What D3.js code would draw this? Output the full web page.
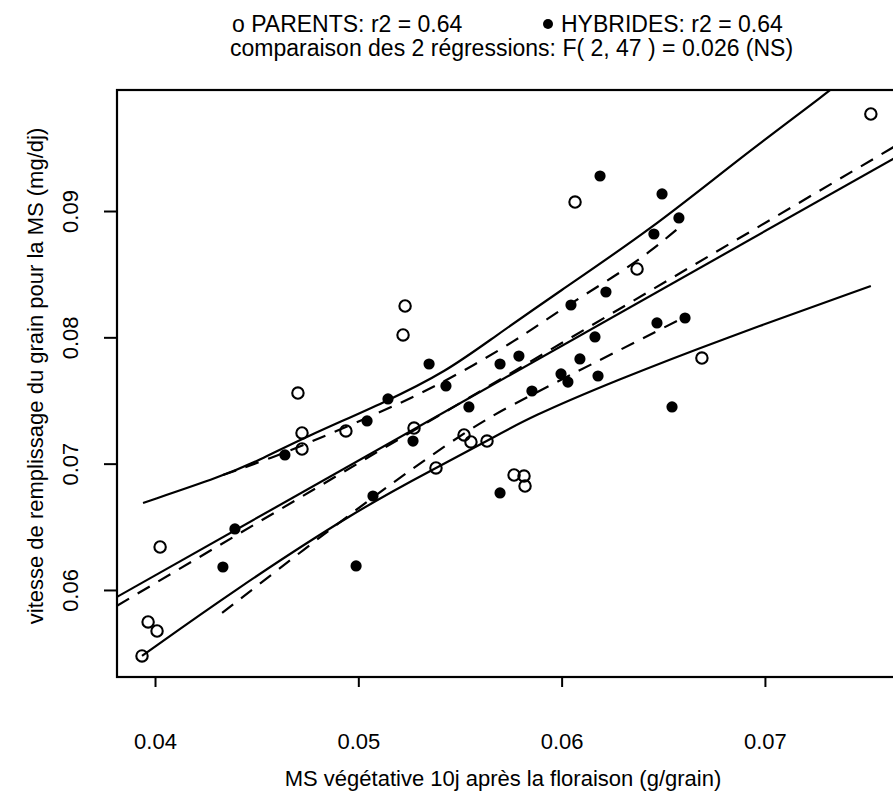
<!DOCTYPE html>
<html><head><meta charset="utf-8">
<script src="https://cdn.jsdelivr.net/npm/d3@7"></script>
<style>
html,body{margin:0;padding:0;background:#fff;}
svg{display:block;font-family:"Liberation Sans",Arial,Helvetica,sans-serif;}
</style></head><body>
<svg id="chart" width="893" height="791"></svg>
<script>
// ---------- data ----------
const titleParents = "o PARENTS: r2 = 0.64";
const titleHybrides = "HYBRIDES: r2 = 0.64";
const titleLine2 = "comparaison des 2 régressions: F( 2, 47 ) = 0.026 (NS)";
const xLabel = "MS végétative 10j après la floraison (g/grain)";
const yLabel = "vitesse de remplissage du grain pour la MS (mg/dj)";

const xTicks = [0.04, 0.05, 0.06, 0.07];
const yTicks = [0.06, 0.07, 0.08, 0.09];
const xTickLabels = ["0.04", "0.05", "0.06", "0.07"];
const yTickLabels = ["0.06", "0.07", "0.08", "0.09"];

const parentsX = [0.07521,0.06066,0.06371,0.05230,0.05220,0.04703,0.04939,0.04723,0.04723,0.05274,0.05520,0.05554,0.05633,0.05382,0.05766,0.05815,0.05820,0.06690,0.04025,0.03966,0.04010,0.03936];
const parentsY = [0.09768,0.09071,0.08541,0.08248,0.08019,0.07559,0.07259,0.07243,0.07116,0.07282,0.07227,0.07172,0.07179,0.06966,0.06910,0.06902,0.06823,0.07836,0.06340,0.05747,0.05675,0.05478];

const hybridsX = [0.06189,0.06494,0.06577,0.06454,0.06218,0.06046,0.06164,0.05790,0.05697,0.06090,0.05997,0.06031,0.06179,0.05854,0.06543,0.06607,0.06469,0.05431,0.05146,0.05043,0.04639,0.05544,0.05269,0.05697,0.05072,0.04393,0.04334,0.04989,0.05348];
const hybridsY = [0.09277,0.09135,0.08945,0.08818,0.08359,0.08256,0.08003,0.07852,0.07789,0.07829,0.07710,0.07646,0.07694,0.07575,0.07449,0.08153,0.08114,0.07615,0.07512,0.07338,0.07069,0.07449,0.07179,0.06768,0.06744,0.06483,0.06182,0.06190,0.07789];

// regression lines (solid = parents, dashed = hybrides)
const parentLineX = [0.03813, 0.07689];
const parentLineY = [0.05945, 0.09466];
const hybridLineX = [0.03813, 0.07689];
const hybridLineY = [0.05875, 0.09560];

// confidence bands
const parentUpperX = [0.03941,0.04334,0.04516,0.04728,0.05146,0.05436,0.05648,0.05977,0.06449,0.06877,0.07305,0.07521];
const parentUpperY = [0.06689,0.06902,0.07029,0.07203,0.07496,0.07734,0.07979,0.08351,0.08866,0.09420,0.09934,0.10211];
const parentLowerX = [0.03936,0.04384,0.04993,0.05382,0.05633,0.05844,0.06272,0.06779,0.07521];
const parentLowerY = [0.05478,0.05992,0.06633,0.06966,0.07179,0.07369,0.07662,0.07979,0.08406];
const hybridUpperX = [0.04334,0.04615,0.04846,0.05215,0.05485,0.05780,0.05977,0.06272,0.06434,0.06587];
const hybridUpperY = [0.06910,0.07069,0.07227,0.07480,0.07702,0.07979,0.08201,0.08494,0.08676,0.08881];
const hybridLowerX = [0.04330,0.04875,0.05254,0.05613,0.05854,0.06090,0.06287,0.06469,0.06607];
const hybridLowerY = [0.05818,0.06499,0.06950,0.07346,0.07544,0.07741,0.07900,0.08050,0.08161];

// ---------- drawing ----------
const svg = d3.select("#chart");
const frame = {left: 117, right: 905, top: 90, bottom: 677};
const x = d3.scaleLinear().domain([0.03813, 0.07689]).range([frame.left, frame.right]);
const y = d3.scaleLinear().domain([0.05311, 0.09958]).range([frame.bottom, frame.top]);

svg.append("defs").append("clipPath").attr("id", "clip")
  .append("rect").attr("x", frame.left).attr("y", frame.top)
  .attr("width", frame.right - frame.left).attr("height", frame.bottom - frame.top);

// titles
const FS = 23;
svg.append("text").attr("x", 232).attr("y", 32).attr("font-size", FS).text(titleParents);
svg.append("circle").attr("cx", 548).attr("cy", 24).attr("r", 5).attr("fill", "#000");
svg.append("text").attr("x", 561).attr("y", 32).attr("font-size", FS).text(titleHybrides);
svg.append("text").attr("x", 230).attr("y", 56).attr("font-size", FS).text(titleLine2);

// axes
const xAxis = d3.axisBottom(x).tickValues(xTicks).tickSize(10)
  .tickFormat((d, i) => xTickLabels[i]);
const gx = svg.append("g").attr("transform", `translate(0,${frame.bottom})`).call(xAxis);
gx.select(".domain").remove();
gx.selectAll(".tick line").attr("stroke", "#000").attr("stroke-width", 2);
gx.selectAll(".tick text").attr("font-size", 22).attr("font-family", "Liberation Sans, Arial, sans-serif")
  .attr("fill", "#000").attr("y", 72).attr("dy", 0);

const yAxis = d3.axisLeft(y).tickValues(yTicks).tickSize(13)
  .tickFormat((d, i) => yTickLabels[i]);
const gy = svg.append("g").attr("transform", `translate(${frame.left},0)`).call(yAxis);
gy.select(".domain").remove();
gy.selectAll(".tick line").attr("stroke", "#000").attr("stroke-width", 2);
gy.selectAll(".tick text").attr("font-size", 22).attr("font-family", "Liberation Sans, Arial, sans-serif")
  .attr("fill", "#000").attr("x", 0).attr("y", 0).attr("dy", 0)
  .attr("text-anchor", "middle").attr("transform", "translate(-39,0) rotate(-90)");

// axis titles
svg.append("text").attr("x", 503).attr("y", 786).attr("text-anchor", "middle")
  .attr("font-size", 22).text(xLabel);
svg.append("text").attr("transform", "translate(43,376) rotate(-90)").attr("text-anchor", "middle")
  .attr("font-size", 22).text(yLabel);

// frame
svg.append("rect").attr("x", frame.left).attr("y", frame.top)
  .attr("width", frame.right - frame.left).attr("height", frame.bottom - frame.top)
  .attr("fill", "none").attr("stroke", "#000").attr("stroke-width", 2.2);

// lines
const plot = svg.append("g").attr("clip-path", "url(#clip)");
const zip = (xs, ys) => xs.map((v, i) => [v, ys[i]]);
const straight = d3.line().x(d => x(d[0])).y(d => y(d[1]));
const smooth = d3.line().x(d => x(d[0])).y(d => y(d[1])).curve(d3.curveBasis);

function draw(gen, pts, dashed) {
  plot.append("path").attr("d", gen(pts)).attr("fill", "none").attr("stroke", "#000")
    .attr("stroke-width", 2.2).attr("stroke-dasharray", dashed ? "14,10" : null);
}
draw(straight, zip(parentLineX, parentLineY), false);
draw(smooth, zip(parentUpperX, parentUpperY), false);
draw(smooth, zip(parentLowerX, parentLowerY), false);
draw(straight, zip(hybridLineX, hybridLineY), true);
draw(smooth, zip(hybridUpperX, hybridUpperY), true);
draw(smooth, zip(hybridLowerX, hybridLowerY), true);

// points
plot.selectAll("circle.par").data(zip(parentsX, parentsY)).enter().append("circle")
  .attr("class", "par").attr("cx", d => x(d[0])).attr("cy", d => y(d[1])).attr("r", 5.7)
  .attr("fill", "none").attr("stroke", "#000").attr("stroke-width", 2.1);
plot.selectAll("circle.hyb").data(zip(hybridsX, hybridsY)).enter().append("circle")
  .attr("class", "hyb").attr("cx", d => x(d[0])).attr("cy", d => y(d[1])).attr("r", 5.6)
  .attr("fill", "#000");
</script>
</body></html>
